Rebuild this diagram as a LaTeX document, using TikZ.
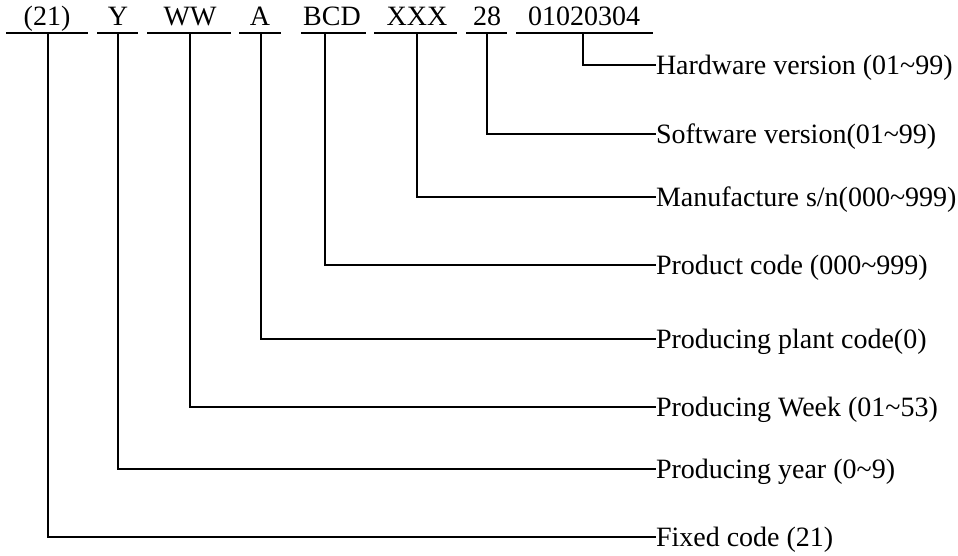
\documentclass[tikz,border=0pt]{standalone}
\usepackage{fontspec}
\setmainfont{Liberation Serif}
\begin{document}
\begin{tikzpicture}[x=0.75pt,y=-0.75pt,line width=1.5pt,
  field/.style={anchor=base,inner sep=0pt,font=\fontsize{21}{25}\selectfont},
  lab/.style={anchor=west,inner sep=0pt,text height=13.9pt,text depth=0pt,font=\fontsize{21}{25}\selectfont},
  conn/.style={line width=1.5pt,line cap=rect}]
\useasboundingbox (0,0) rectangle (958,556);
% top fields
\node[field] (f1) at (47,26) {(21)};
\node[field] (f2) at (118,26) {Y};
\node[field] (f3) at (190,26) {WW};
\node[field] (f4) at (260,26) {A};
\node[field] (f5) at (332,26) {BCD};
\node[field] (f6) at (417,26) {XXX};
\node[field] (f7) at (487,26) {28};
\node[field] (f8) at (584,26) {01020304};
% underlines
\draw (6,33) -- (88,33);
\draw (97,33) -- (138,33);
\draw (147,33) -- (231,33);
\draw (239,33) -- (281,33);
\draw (301,33) -- (366,33);
\draw (374,33) -- (457,33);
\draw (466,33) -- (507,33);
\draw (516,33) -- (653,33);
% connector start points
\coordinate (c1) at (48,33);
\coordinate (c2) at (118,33);
\coordinate (c3) at (190,33);
\coordinate (c4) at (261,33);
\coordinate (c5) at (325,33);
\coordinate (c6) at (417,33);
\coordinate (c7) at (487,33);
\coordinate (c8) at (583,33);
% labels
\node[lab] (l8) at (655,65) {Hardware version (01\textasciitilde99)};
\node[lab] (l7) at (655,134) {Software version(01\textasciitilde99)};
\node[lab] (l6) at (655,197) {Manufacture s/n(000\textasciitilde999)};
\node[lab] (l5) at (655,265) {Product code (000\textasciitilde999)};
\node[lab] (l4) at (655,339) {Producing plant code(0)};
\node[lab] (l3) at (655,407) {Producing Week (01\textasciitilde53)};
\node[lab] (l2) at (655,469) {Producing year (0\textasciitilde9)};
\node[lab] (l1) at (655,537) {Fixed code (21)};
% connectors
\draw[conn] (c8) |- (l8.west);
\draw[conn] (c7) |- (l7.west);
\draw[conn] (c6) |- (l6.west);
\draw[conn] (c5) |- (l5.west);
\draw[conn] (c4) |- (l4.west);
\draw[conn] (c3) |- (l3.west);
\draw[conn] (c2) |- (l2.west);
\draw[conn] (c1) |- (l1.west);
\end{tikzpicture}
\end{document}
